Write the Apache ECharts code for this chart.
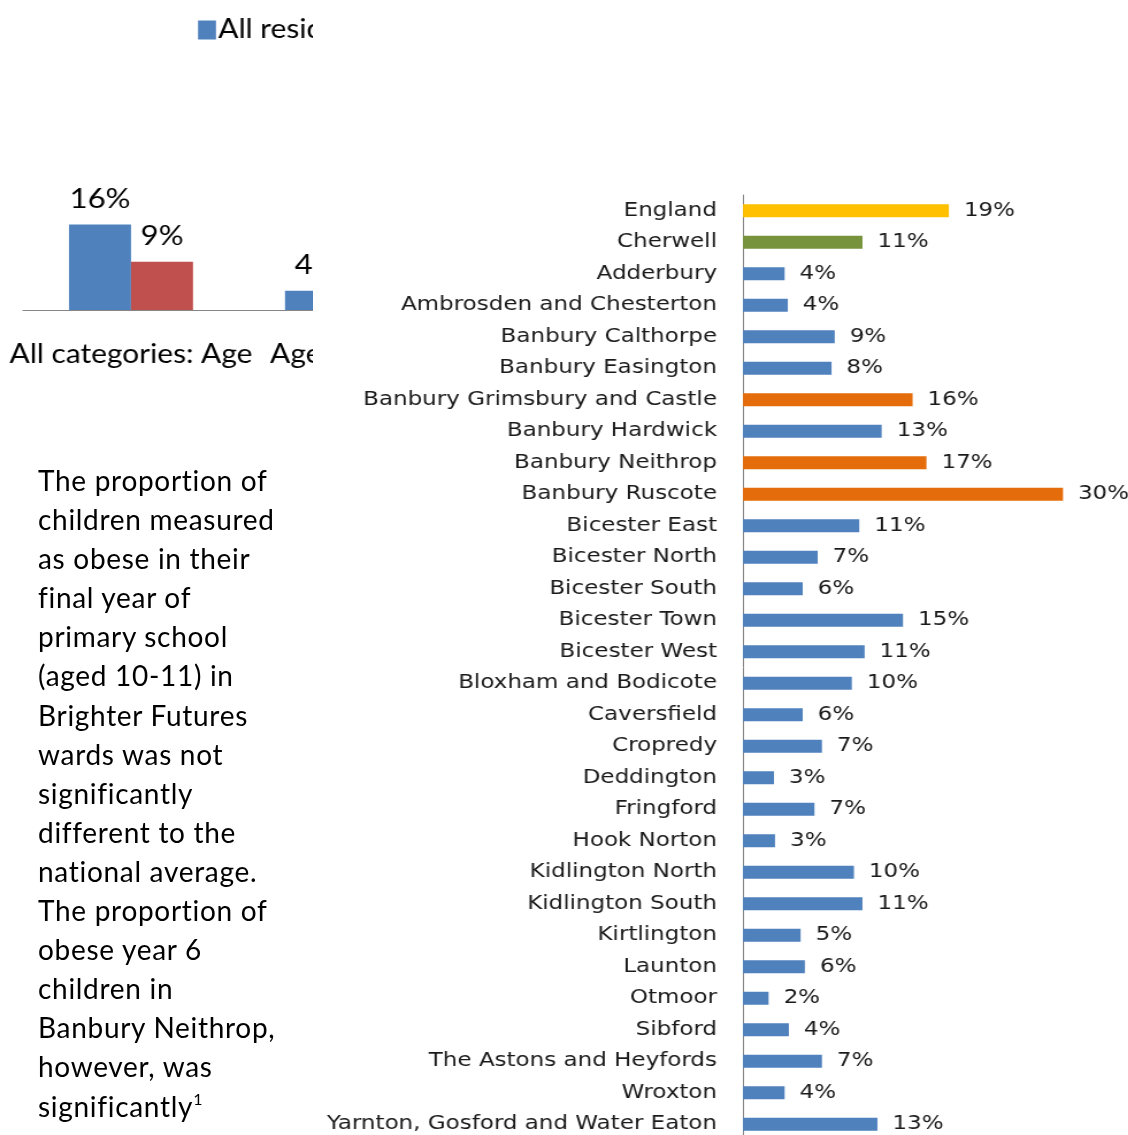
<!DOCTYPE html>
<html>
<head>
<meta charset="utf-8">
<script src="https://cdn.jsdelivr.net/npm/echarts@6/dist/echarts.min.js"></script>
<style>
    html, body { margin: 0; padding: 0; background: #fff; overflow: hidden; }
    /* the source picture is stretched sideways, so both charts are drawn narrow and widened */
    .wide { position: absolute; left: 0; top: 0; transform: scaleX(1.15); transform-origin: 0 0; }
    #main { width: 981px; height: 1160px; }
    #clip { position: absolute; left: 0; top: 0; width: 313px; height: 390px; overflow: hidden; }
    #mini { width: 780px; height: 390px; }
    #note {
        position: absolute; left: 38px; top: 461px;
        font-family: Lato, 'Open Sans', sans-serif; font-size: 28px; line-height: 39.1px;
        letter-spacing: 0.7px; color: #000;
    }
    #note sup { font-size: 16px; vertical-align: 12px; line-height: 0; }
</style>
</head>
<body>
<div id="main" class="wide"></div>
<div id="clip"><div id="mini" class="wide"></div></div>
<div id="note">The proportion of<br>children measured<br>as obese in their<br>final year of<br>primary school<br>(aged 10-11) in<br>Brighter Futures<br>wards was not<br>significantly<br>different to the<br>national average.<br>The proportion of<br>obese year 6<br>children in<br>Banbury Neithrop,<br>however, was<br>significantly<sup>1</sup></div>
<script>
// wards, top to bottom
const wards = ['England', 'Cherwell', 'Adderbury', 'Ambrosden and Chesterton', 'Banbury Calthorpe',
    'Banbury Easington', 'Banbury Grimsbury and Castle', 'Banbury Hardwick', 'Banbury Neithrop',
    'Banbury Ruscote', 'Bicester East', 'Bicester North', 'Bicester South', 'Bicester Town',
    'Bicester West', 'Bloxham and Bodicote', 'Caversfield', 'Cropredy', 'Deddington', 'Fringford',
    'Hook Norton', 'Kidlington North', 'Kidlington South', 'Kirtlington', 'Launton', 'Otmoor',
    'Sibford', 'The Astons and Heyfords', 'Wroxton', 'Yarnton, Gosford and Water Eaton']
// % of year 6 children obese
const obese = [19.3, 11.2, 3.9, 4.2, 8.6, 8.3, 15.9, 13.0, 17.2, 30.0, 10.9, 7.0, 5.6, 15.0,
    11.4, 10.2, 5.6, 7.4, 2.9, 6.7, 3.0, 10.4, 11.2, 5.4, 5.8, 2.4, 4.3, 7.4, 3.9, 12.6]
const brighterFutures = ['Banbury Grimsbury and Castle', 'Banbury Neithrop', 'Banbury Ruscote']

// small chart, cut off on the right
const ageGroups = ['All categories: Age', 'Age 0 to 15']
const allResidents = [16, 3.6]
const obeseChildren = [9, null]

const SX = 1.15 // horizontal stretch, px below are in page px / SX

function barColor(name) {
    if (name === 'England') return '#ffc000'
    if (name === 'Cherwell') return '#77933c'
    if (brighterFutures.indexOf(name) >= 0) return '#e46c0a'
    return '#4f81bd'
}

const pct = p => Math.round(p.value) + '%'

const main = echarts.init(document.getElementById('main'))
main.setOption({
    animation: false,
    grid: { left: 743 / SX, top: 195, width: 384 / SX, height: 945, containLabel: false },
    xAxis: { type: 'value', min: 0, max: 36, show: false },
    yAxis: {
        type: 'category',
        inverse: true,
        data: wards,
        axisLine: { lineStyle: { color: '#868686', width: 1 } },
        axisTick: { length: 7, lineStyle: { color: '#868686' } },
        axisLabel: { margin: 26 / SX, fontFamily: 'DejaVu Sans', fontSize: 20, color: '#1a1a1a' }
    },
    series: [{
        type: 'bar',
        barWidth: 13,
        data: obese.map((v, i) => ({ value: v, itemStyle: { color: barColor(wards[i]) } })),
        label: {
            show: true,
            position: 'right',
            distance: 15 / SX,
            fontFamily: 'DejaVu Sans',
            fontSize: 20,
            color: '#1a1a1a',
            formatter: pct
        }
    }]
})

const mini = echarts.init(document.getElementById('mini'))
mini.setOption({
    animation: false,
    legend: {
        left: 198 / SX, top: 17, padding: 0,
        itemWidth: 18 / SX, itemHeight: 19, itemGap: 30,
        icon: 'rect',
        textStyle: { fontFamily: 'Lato', fontSize: 26, color: '#000', padding: [0, 0, 0, -3] }
    },
    grid: { left: 23 / SX, top: 203, width: 432 / SX, height: 107 },
    xAxis: {
        type: 'category',
        data: ageGroups,
        axisLine: { lineStyle: { color: '#868686' } },
        axisTick: { length: 9, lineStyle: { color: '#868686' } },
        axisLabel: { margin: 32, interval: 0, fontFamily: 'Lato', fontSize: 26, color: '#000' }
    },
    yAxis: { type: 'value', min: 0, max: 20, show: false },
    series: [{
        name: 'All residents',
        type: 'bar',
        barWidth: 62 / SX,
        barGap: 0,
        itemStyle: { color: '#4f81bd' },
        label: { show: true, position: 'top', distance: 12, fontFamily: 'Lato', fontSize: 27, color: '#000', formatter: pct },
        data: allResidents
    }, {
        name: 'Obese children',
        type: 'bar',
        barWidth: 62 / SX,
        barGap: 0,
        itemStyle: { color: '#c0504d' },
        label: { show: true, position: 'top', distance: 12, fontFamily: 'Lato', fontSize: 27, color: '#000', formatter: pct },
        data: obeseChildren
    }]
})
</script>
</body>
</html>
